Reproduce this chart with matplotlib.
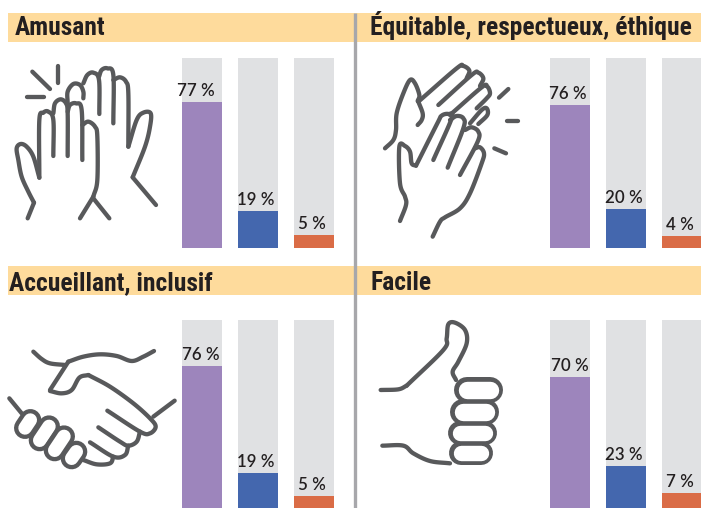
import numpy as np
import matplotlib
matplotlib.use("Agg")
import matplotlib.pyplot as plt

# Valeurs
titles = ["Amusant", "Équitable, respectueux, éthique", "Accueillant, inclusif", "Facile"]
labels_amusant = ["77 %", "19 %", "5 %"]
labels_equitable = ["76 %", "20 %", "4 %"]
labels_accueillant = ["76 %", "19 %", "5 %"]
labels_facile = ["70 %", "23 %", "7 %"]
heights_amusant = [76.8, 19.5, 6.8]
heights_equitable = [75.3, 20.5, 6.3]
heights_accueillant = [75.5, 18.6, 6.4]
heights_facile = [69.7, 22.3, 8.0]

W, H = 701, 508
BAND = "#fedb9c"
GREY = "#e0e1e3"
BAR_COLORS = ["#9d85bc", "#4467ae", "#da6c46"]
ICON = "#58595b"
ICON_LW = 3.1
TITLE_FONT = ["Roboto Condensed", "Archivo Narrow", "Saira SemiCondensed", "Liberation Sans"]


def smooth(points, n=14):
    # Catmull-Rom pour arrondir les traits des icones
    p = np.array(points, dtype=float)
    if len(p) < 3:
        return p
    p = np.vstack([2 * p[0] - p[1], p, 2 * p[-1] - p[-2]])
    out = []
    for i in range(1, len(p) - 2):
        for t in np.linspace(0, 1, n, endpoint=False):
            a = 2 * p[i] + (p[i + 1] - p[i - 1]) * t
            b = (2 * p[i - 1] - 5 * p[i] + 4 * p[i + 1] - p[i + 2]) * t ** 2
            c = (3 * p[i] - p[i - 1] - 3 * p[i + 1] + p[i + 2]) * t ** 3
            out.append(0.5 * (a + b + c))
    out.append(p[-2])
    return np.array(out)


def stroke(ax, points, ox, oy):
    # points en coordonnees de zoom (x3), ox/oy = origine du zoom
    s = smooth(points)
    ax.plot(s[:, 0] / 3 + ox, s[:, 1] / 3 + oy, color=ICON, lw=ICON_LW,
            solid_capstyle="round", solid_joinstyle="round", zorder=3)


def capsule(ax, a, b, outer, ox, oy, z):
    # contour de doigt : trait fonce puis trait blanc par dessus
    xs = [a[0] / 3 + ox, b[0] / 3 + ox]
    ys = [a[1] / 3 + oy, b[1] / 3 + oy]
    ax.plot(xs, ys, color=ICON, lw=outer * 0.72, solid_capstyle="round", zorder=z)
    ax.plot(xs, ys, color="white", lw=outer * 0.72 - 2 * ICON_LW, solid_capstyle="round", zorder=z + 0.1)


def icon_high_five(ax):
    ox, oy = 0, 0
    for s in [
        [(97, 215), (150, 267)],
        [(173, 197), (173, 248)],
        [(80, 292), (133, 292)],
        [(118, 533), (100, 470), (80, 440), (62, 432), (50, 445), (55, 480), (65, 530), (85, 575), (102, 608)],
        [(102, 608), (83, 655)],
        [(118, 533), (118, 360), (130, 338), (145, 335), (160, 360), (160, 468)],
        [(160, 340), (165, 310), (182, 298), (198, 310), (203, 340), (203, 468)],
        [(203, 335), (210, 315), (228, 310), (245, 330), (247, 480)],
        [(247, 375), (265, 365), (285, 380), (292, 410), (292, 540), (280, 590)],
        [(280, 590), (240, 655)],
        [(280, 595), (328, 655)],
        [(203, 310), (203, 275), (220, 252), (240, 255), (250, 275), (250, 295)],
        [(250, 250), (262, 225), (280, 218), (297, 240), (298, 342)],
        [(297, 230), (305, 210), (322, 205), (340, 225), (340, 370)],
        [(340, 240), (360, 232), (378, 245), (385, 280), (385, 440)],
        [(385, 440), (410, 360), (430, 338), (452, 340), (450, 380), (435, 440), (398, 532)],
        [(398, 532), (468, 615)],
    ]:
        stroke(ax, s, ox, oy)


def icon_clap(ax):
    ox, oy = 350, 0
    for s in [
        [(447, 293), (475, 267)],
        [(470, 362), (505, 362)],
        [(433, 445), (468, 460)],
        [(105, 445), (130, 420), (138, 390), (140, 340), (160, 280), (180, 240), (195, 250), (208, 285), (203, 303)],
        [(205, 305), (320, 205), (340, 198), (358, 212), (350, 235)],
        [(265, 315), (365, 225), (385, 218), (400, 235), (390, 258)],
        [(300, 345), (395, 262), (412, 260), (420, 280), (410, 295), (380, 325)],
        [(360, 370), (395, 330), (410, 325), (412, 345), (385, 372)],
        [(205, 305), (218, 340), (215, 360), (203, 375)],
        [(150, 663), (168, 615), (165, 590), (150, 550), (148, 440), (165, 438), (180, 455), (185, 490), (198, 497)],
        [(198, 497), (262, 370), (275, 347), (295, 342), (305, 355), (250, 480)],
        [(300, 360), (320, 348), (340, 355), (340, 385), (293, 503)],
        [(345, 390), (365, 382), (385, 395), (383, 425), (330, 525)],
        [(375, 445), (390, 442), (402, 460), (395, 490), (360, 580), (330, 625), (285, 652), (270, 665), (248, 710)],
    ]:
        stroke(ax, s, ox, oy)


def icon_handshake(ax):
    ox, oy = 0, 255
    for s in [
        [(100, 290), (125, 312), (150, 325), (195, 330)],
        [(150, 405), (205, 320)],
        [(205, 320), (250, 305), (300, 298), (350, 303), (395, 318), (430, 305), (462, 288)],
        [(150, 408), (185, 415), (215, 405), (238, 368), (265, 360)],
        [(265, 360), (330, 395), (400, 445), (450, 490), (467, 515), (450, 535), (420, 530), (322, 467)],
        [(460, 485), (524, 437)],
        [(420, 530), (410, 560), (385, 572), (360, 560), (295, 517)],
        [(385, 572), (375, 600), (340, 605), (270, 562)],
        [(340, 605), (330, 625), (290, 628), (250, 615)],
        [(28, 430), (65, 475)],
    ]:
        stroke(ax, s, ox, oy)
    capsule(ax, (91, 495), (75, 519), 22, ox, oy, 4)
    capsule(ax, (147, 514), (119, 556), 22, ox, oy, 4.2)
    capsule(ax, (192, 544), (164, 586), 22, ox, oy, 4.4)
    capsule(ax, (229, 590), (215, 610), 22, ox, oy, 4.6)


def icon_thumb(ax):
    ox, oy = 350, 255
    for s in [
        [(92, 405), (145, 403), (170, 392)],
        [(170, 392), (280, 285), (290, 250), (295, 208), (315, 203), (345, 225), (350, 265), (325, 320), (308, 350), (318, 375)],
        [(97, 572), (160, 572), (190, 595), (240, 618), (300, 625)],
    ]:
        stroke(ax, s, ox, oy)
    capsule(ax, (351, 405), (419, 405), 26, ox, oy, 4.6)
    capsule(ax, (340, 471), (408, 471), 26, ox, oy, 4.4)
    capsule(ax, (329, 535), (404, 535), 24, ox, oy, 4.2)
    capsule(ax, (334, 595), (392, 595), 24, ox, oy, 4)


fig = plt.figure(figsize=(W / 100, H / 100), dpi=100)
bg = fig.add_axes([0, 0, 1, 1])
bg.set_xlim(0, W)
bg.set_ylim(H, 0)
bg.axis("off")

# Bandeaux et separation
bg.fill_between([8, W], 13, 42, color=BAND, lw=0)
bg.fill_between([8, W], 266, 295, color=BAND, lw=0)
bg.plot([354.5, 354.5], [13, H], color="#a7a7ab", lw=2.4, solid_capstyle="butt", zorder=2)

title_x = [15, 370, 9, 370]
title_y = [35, 35, 290, 290]
for t, x, y in zip(titles, title_x, title_y):
    bg.text(x, y, t, family=TITLE_FONT, weight="bold",
            fontsize=18.4, color="#231f20", ha="left", va="baseline")

icon_high_five(bg)
icon_clap(bg)
icon_handshake(bg)
icon_thumb(bg)

all_heights = [heights_amusant, heights_equitable, heights_accueillant, heights_facile]
all_labels = [labels_amusant, labels_equitable, labels_accueillant, labels_facile]
panels = [(182, 58, 248), (550, 58, 248), (182, 320, 508), (550, 320, 508)]
first_shift = [-6, -2, -1, 0]
bar_x = [0, 56, 112]

for k, (left, top, bottom) in enumerate(panels):
    ax = fig.add_axes([left / W, 1 - bottom / H, 152 / W, (bottom - top) / H])
    ax.set_xlim(-20, 132)
    ax.set_ylim(0, 100)
    ax.axis("off")
    ax.bar(bar_x, [100, 100, 100], width=40, color=GREY, clip_on=False)
    ax.bar(bar_x, all_heights[k], width=40, color=BAR_COLORS, clip_on=False)
    for i, (x, h, lab) in enumerate(zip(bar_x, all_heights[k], all_labels[k])):
        shift = first_shift[k] if i == 0 else -2
        ax.annotate(lab, (x, h), xytext=(shift * 0.72, 6 * 0.72), textcoords="offset points",
                    ha="center", va="baseline", family="Lato", weight="semibold", fontsize=12.2, color="#231f20")

fig.savefig("out.png", dpi=100)
